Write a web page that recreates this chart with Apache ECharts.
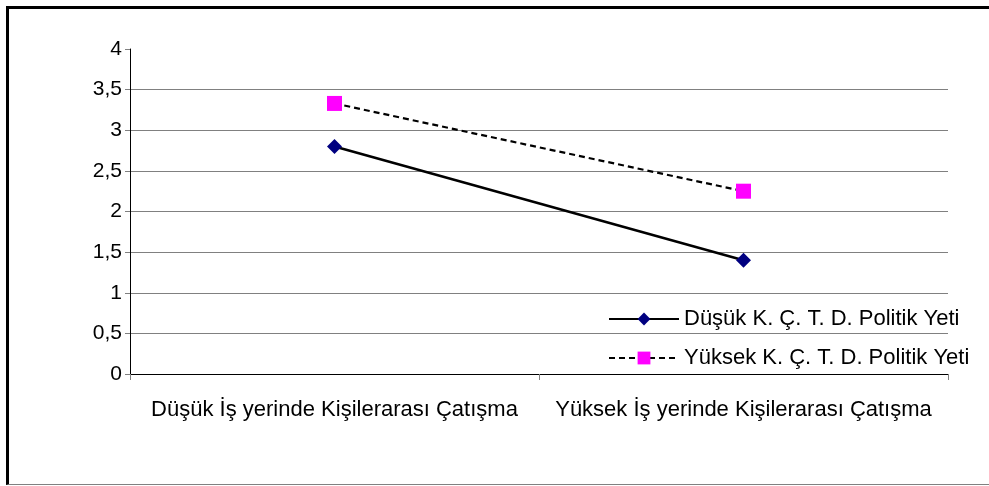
<!DOCTYPE html>
<html>
<head>
<meta charset="utf-8">
<script src="https://cdn.jsdelivr.net/npm/echarts@6/dist/echarts.min.js"></script>
<style>
  html, body { margin: 0; padding: 0; background: #fff; }
  #frame {
    position: absolute; left: 6px; top: 6px; width: 983px; height: 479px;
    border-left: 3px solid #000; border-top: 3px solid #000; border-bottom: 1px solid #808080;
    box-sizing: border-box;
  }
  #main { position: absolute; left: 0; top: 0; width: 989px; height: 486px; }
</style>
</head>
<body>
<div id="frame"></div>
<div id="main"></div>
<script>
var categories = ['Düşük İş yerinde Kişilerarası Çatışma', 'Yüksek İş yerinde Kişilerarası Çatışma'];
var seriesNames = ['Düşük K. Ç. T. D. Politik Yeti', 'Yüksek K. Ç. T. D. Politik Yeti'];
var lowValues = [2.8, 1.4];
var highValues = [3.33, 2.25];
var yTicks = [0, 0.5, 1, 1.5, 2, 2.5, 3, 3.5, 4];

var myChart = echarts.init(document.getElementById('main'));

var gridColors = yTicks.map(function (v, i) { return i === yTicks.length - 1 ? 'rgba(0,0,0,0)' : '#808080'; });
var font = 'Liberation Sans, Arial, sans-serif';

option = {
    animation: false,
    textStyle: { fontFamily: font },
    grid: { left: 130, right: 41, top: 49, bottom: 112 },
    legend: {
        orient: 'vertical',
        left: 608,
        top: 308,
        padding: 0,
        itemWidth: 70,
        itemHeight: 16,
        itemGap: 17,
        textStyle: { fontSize: 22, color: '#000', fontFamily: font },
        data: seriesNames
    },
    xAxis: {
        type: 'category',
        data: categories,
        boundaryGap: true,
        axisLine: { lineStyle: { color: '#000', width: 1 } },
        axisTick: { show: true, interval: 0, alignWithLabel: false, length: 6, lineStyle: { color: '#808080' } },
        axisLabel: { interval: 0, fontSize: 22, color: '#000', margin: 25 },
        splitLine: { show: false }
    },
    yAxis: {
        type: 'value',
        min: 0,
        max: 4,
        interval: 0.5,
        axisLine: { show: true, lineStyle: { color: '#000', width: 1 } },
        axisTick: { show: true, length: 5, lineStyle: { color: '#808080' } },
        axisLabel: {
            fontSize: 21, color: '#000', margin: 8,
            formatter: function (v) { return String(v).replace('.', ','); }
        },
        splitLine: { show: true, lineStyle: { color: gridColors, width: 1 } }
    },
    series: [
        {
            name: seriesNames[0],
            type: 'line',
            data: lowValues,
            symbol: 'diamond',
            symbolSize: 15,
            itemStyle: { color: '#000080' },
            lineStyle: { color: '#000', width: 2.5, type: 'solid' }
        },
        {
            name: seriesNames[1],
            type: 'line',
            data: highValues,
            symbol: 'rect',
            symbolSize: 15,
            itemStyle: { color: '#ff00ff' },
            lineStyle: { color: '#000', width: 2.2, type: [6, 4] }
        }
    ]
};
myChart.setOption(option);
</script>
</body>
</html>
